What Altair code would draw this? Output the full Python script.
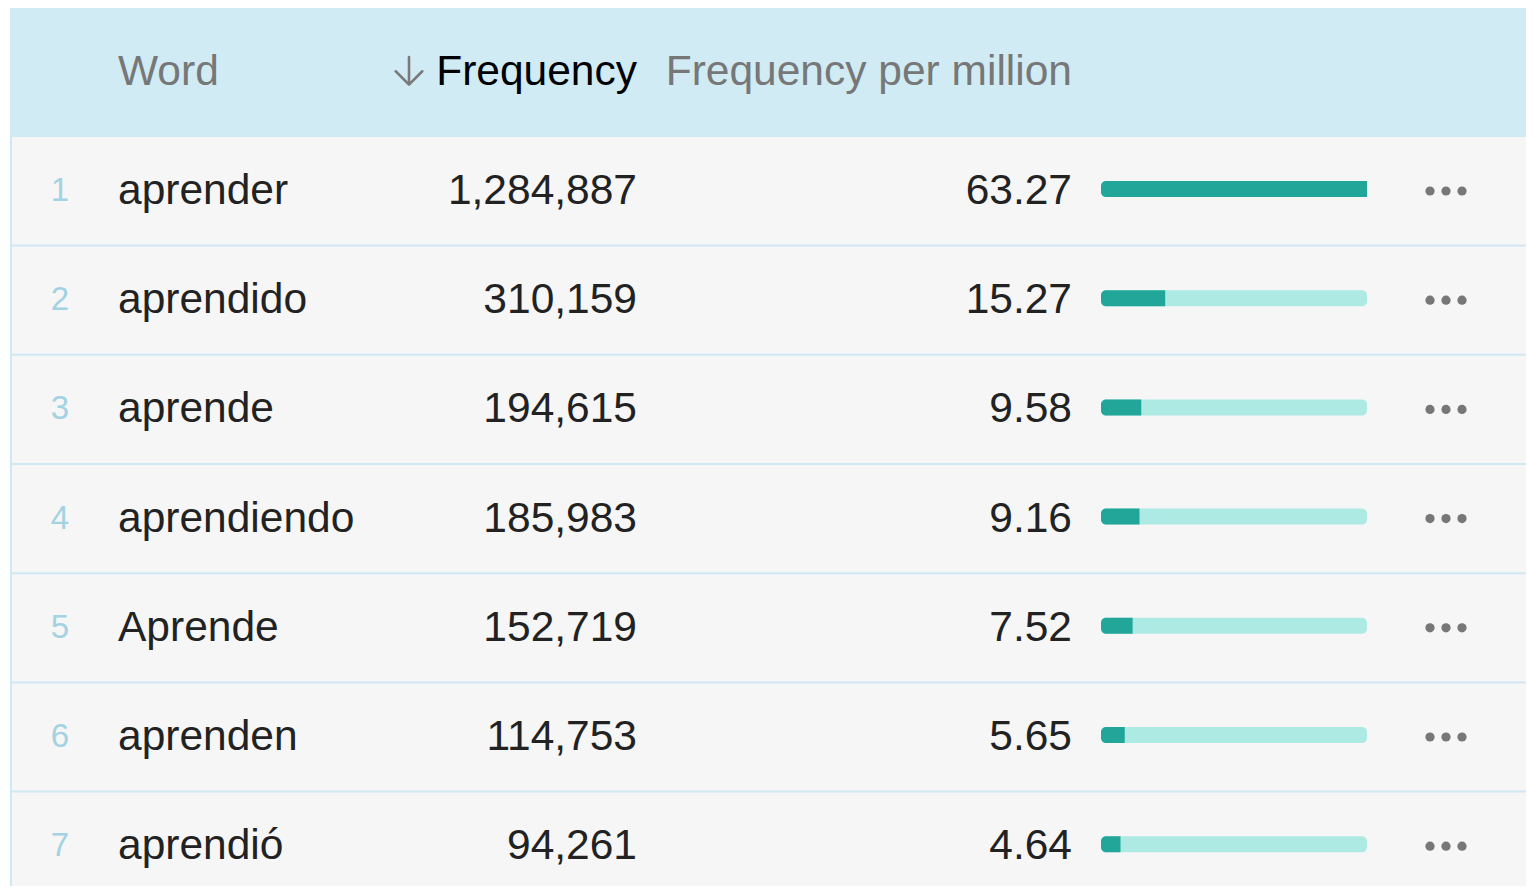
import altair as alt
import pandas as pd

# ---- data ----
ranks = [1, 2, 3, 4, 5, 6, 7]
words = ["aprender", "aprendido", "aprende", "aprendiendo", "Aprende", "aprenden", "aprendió"]
freqs = [1284887, 310159, 194615, 185983, 152719, 114753, 94261]
fpms = [63.27, 15.27, 9.58, 9.16, 7.52, 5.65, 4.64]
headers = ["Word", "Frequency", "Frequency per million"]

df = pd.DataFrame({"rank": ranks, "word": words, "freq": freqs, "fpm": fpms})
df["maxv"] = max(fpms)
sep_df = pd.DataFrame({"sep": [r + 0.5 for r in ranks[:-1]]})
one = pd.DataFrame({"k": [0]})

# ---- layout ----
FONT = "Liberation Sans"
FS = 42.5
W, H = 1518, 878
ROW_H = 109.2
ROW1 = 183.0
HEAD_H = 129
y_top = 1 - ROW1 / ROW_H
y_bot = 1 + (H - ROW1) / ROW_H
yscale = alt.Scale(domain=[y_top, y_bot], reverse=True, nice=False, zero=False, padding=0)
xscale = alt.Scale(domain=[0, max(fpms)], range=[1093, 1359], nice=False, zero=False, padding=0)
Y = alt.Y("rank:Q", scale=yscale, axis=None)

LINE = "#cfe8f1"
ARROW_PATH = "M0,-1L0,0.95M-0.95,0.02L0,0.97L0.95,0.02"

header_bg = alt.Chart(one).mark_rect(color="#d0ebf4").encode(
    x=alt.value(2), x2=alt.value(W), y=alt.value(0), y2=alt.value(HEAD_H))
body_bg = alt.Chart(one).mark_rect(color="#f6f6f6").encode(
    x=alt.value(2), x2=alt.value(W), y=alt.value(HEAD_H), y2=alt.value(H))
left_border = alt.Chart(one).mark_rule(color=LINE, strokeWidth=2).encode(
    x=alt.value(3), y=alt.value(HEAD_H), y2=alt.value(H))
seps = alt.Chart(sep_df).mark_rule(color=LINE, strokeWidth=2).encode(
    x=alt.value(2), x2=alt.value(W), y=alt.Y("sep:Q", scale=yscale, axis=None))

def htext(label, x, color, align):
    return alt.Chart(pd.DataFrame({"h": [label]})).mark_text(
        font=FONT, fontSize=FS, color=color, align=align, baseline="middle"
    ).encode(x=alt.value(x), y=alt.value(64), text="h:N")

h_word = htext(headers[0], 110, "#777777", "left")
h_freq = htext(headers[1], 629, "#000000", "right")
h_fpm = htext(headers[2], 1064, "#777777", "right")
h_arrow = alt.Chart(one).mark_point(
    shape=ARROW_PATH, size=784, filled=False, stroke="#7a7a7a", strokeWidth=2.6,
    opacity=1, strokeCap="round", strokeJoin="round"
).encode(x=alt.value(401), y=alt.value(63))

rank_t = alt.Chart(df).mark_text(font=FONT, fontSize=33, color="#a3d2e2", align="center",
                                 baseline="middle").encode(x=alt.value(52), y=Y, text="rank:Q")
word_t = alt.Chart(df).mark_text(font=FONT, fontSize=FS, color="#222222", align="left",
                                 baseline="middle").encode(x=alt.value(110), y=Y, text="word:N")
freq_t = alt.Chart(df).mark_text(font=FONT, fontSize=FS, color="#222222", align="right",
                                 baseline="middle").encode(
    x=alt.value(629), y=Y, text=alt.Text("freq:Q", format=","))
fpm_t = alt.Chart(df).mark_text(font=FONT, fontSize=FS, color="#222222", align="right",
                                baseline="middle").encode(
    x=alt.value(1064), y=Y, text=alt.Text("fpm:Q", format=".2f"))

bar_bg = alt.Chart(df).mark_bar(height=16, cornerRadius=5, color="#aeeae4", yOffset=-2).encode(
    x=alt.X("maxv:Q", scale=xscale, axis=None), x2=alt.datum(0), y=Y)
bar_fg = alt.Chart(df).mark_bar(height=16, cornerRadiusTopLeft=5, cornerRadiusBottomLeft=5,
                                color="#22a699", yOffset=-2).encode(
    x=alt.X("fpm:Q", scale=xscale, axis=None), x2=alt.datum(0), y=Y)

dots = [alt.Chart(df).mark_circle(size=85, color="#777777", opacity=1).encode(
    x=alt.value(xv), y=Y) for xv in (1422, 1438, 1454)]

chart = alt.layer(
    header_bg, body_bg, left_border, seps,
    h_word, h_arrow, h_freq, h_fpm,
    rank_t, word_t, freq_t, fpm_t,
    bar_bg, bar_fg, *dots
).properties(
    width=W, height=H, padding=0,
    autosize=alt.AutoSizeParams(type="none"), background="white"
).configure_view(stroke=None)

chart.save("out.html", embed_options={"renderer": "svg", "actions": False})
